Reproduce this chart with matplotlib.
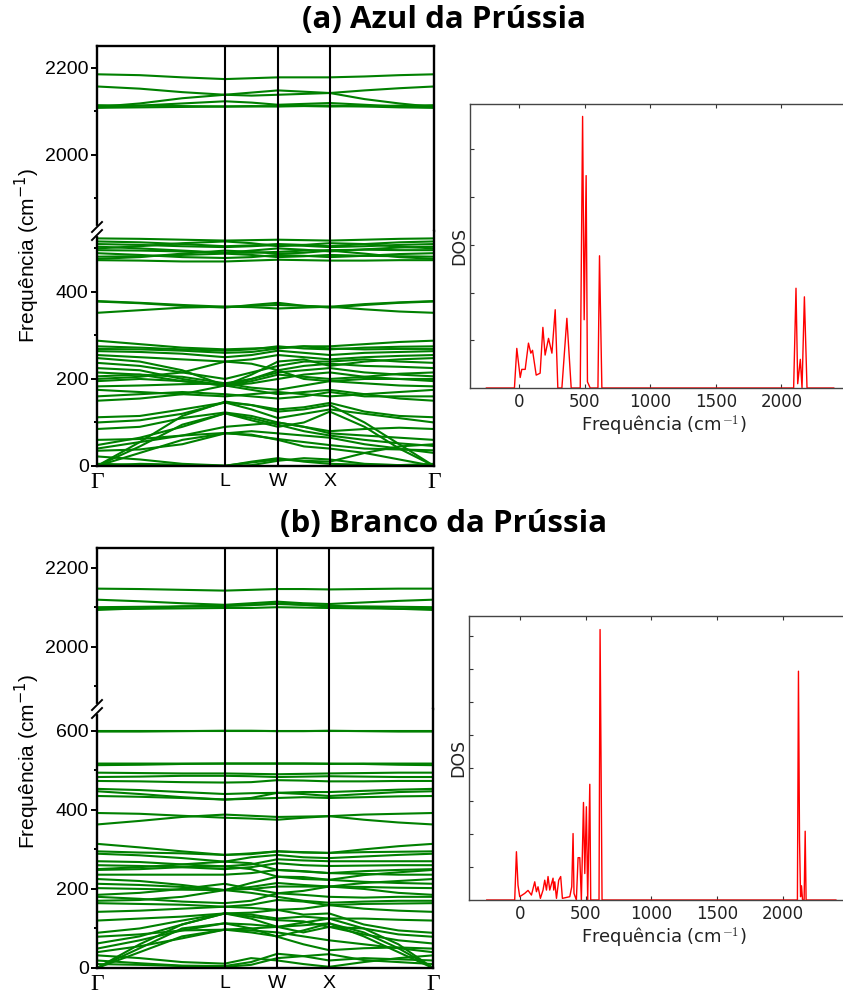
import matplotlib
matplotlib.use('Agg')
import matplotlib.pyplot as plt
from matplotlib.lines import Line2D
from matplotlib.ticker import MultipleLocator
from matplotlib.transforms import offset_copy

plt.rcParams['font.family'] = ['Liberation Sans', 'DejaVu Sans']

W_PX, H_PX = 843, 993

# k-path sample points: Γ, 1/3, 2/3, L, mid, W, mid, X, 1/3, 2/3, Γ
kpath = [0.0, 0.127, 0.253, 0.380, 0.4585, 0.537, 0.614, 0.691, 0.794, 0.897, 1.0]
k_ticks = [0.0, 0.380, 0.537, 0.691, 1.0]
k_labels = ['Γ', 'L', 'W', 'X', 'Γ']

# (a) Azul da Prússia - phonon branches (cm^-1)
bands_a = [
    [0, 30, 60, 75, 72, 60, 45, 40, 30, 15, 0],
    [0, 45, 95, 121, 105, 90, 100, 125, 90, 40, 0],
    [0, 55, 115, 148, 140, 125, 130, 140, 100, 50, 0],
    [22, 15, 5, 1, 8, 15, 12, 10, 30, 45, 50],
    [40, 55, 70, 76, 70, 62, 55, 48, 40, 38, 36],
    [48, 65, 90, 121, 110, 95, 80, 70, 60, 52, 46],
    [85, 90, 110, 123, 115, 100, 90, 80, 85, 88, 85],
    [112, 115, 130, 146, 140, 130, 135, 145, 125, 115, 112],
    [35, 38, 50, 75, 80, 75, 70, 65, 50, 40, 30],
    [0, 5, 3, 0, 2, 12, 18, 15, 5, 2, 0],
    [5, 3, 1, 0, 10, 18, 10, 5, 3, 2, 5],
    [60, 62, 70, 90, 95, 100, 90, 75, 70, 65, 60],
    [100, 105, 120, 146, 130, 110, 120, 130, 120, 110, 100],
    [150, 155, 165, 185, 175, 165, 170, 175, 165, 155, 150],
    [175, 170, 165, 160, 165, 170, 165, 160, 165, 170, 175],
    [183, 185, 188, 190, 180, 175, 185, 195, 190, 185, 183],
    [195, 200, 195, 185, 190, 200, 210, 215, 205, 200, 195],
    [206, 210, 205, 190, 200, 215, 220, 225, 215, 210, 206],
    [215, 210, 195, 185, 195, 210, 205, 200, 205, 212, 215],
    [225, 220, 200, 185, 200, 220, 230, 235, 230, 228, 225],
    [237, 230, 215, 200, 215, 230, 240, 240, 245, 240, 237],
    [248, 240, 220, 185, 210, 240, 245, 230, 240, 245, 248],
    [255, 250, 245, 240, 245, 255, 250, 245, 250, 253, 255],
    [264, 262, 258, 250, 255, 265, 260, 255, 260, 262, 264],
    [269, 268, 265, 260, 262, 270, 275, 270, 268, 269, 269],
    [275, 272, 268, 265, 268, 275, 270, 268, 272, 274, 275],
    [288, 280, 272, 268, 270, 272, 275, 275, 280, 285, 288],
    [160, 165, 170, 165, 160, 155, 160, 170, 160, 160, 160],
    [200, 205, 215, 240, 235, 220, 200, 195, 200, 200, 200],
    [352, 358, 364, 366, 368, 370, 368, 366, 360, 355, 352],
    [379, 375, 370, 366, 365, 362, 364, 366, 372, 376, 379],
    [378, 374, 368, 364, 370, 375, 368, 364, 370, 375, 378],
    [523, 522, 520, 518, 519, 520, 519, 518, 520, 522, 523],
    [516, 514, 510, 505, 507, 510, 508, 505, 510, 514, 516],
    [510, 508, 505, 503, 505, 508, 506, 503, 505, 508, 510],
    [504, 500, 495, 490, 495, 500, 497, 493, 498, 502, 504],
    [496, 495, 493, 490, 490, 492, 495, 496, 497, 496, 496],
    [489, 485, 480, 478, 480, 485, 483, 480, 483, 487, 489],
    [481, 482, 485, 488, 485, 480, 482, 485, 483, 482, 481],
    [473, 472, 470, 470, 472, 474, 473, 472, 472, 473, 473],
    [476, 480, 488, 495, 492, 488, 490, 495, 488, 480, 476],
    [500, 505, 512, 516, 512, 505, 508, 512, 510, 504, 500],
    [2185, 2183, 2178, 2174, 2176, 2178, 2178, 2178, 2180, 2183, 2185],
    [2157, 2152, 2144, 2138, 2143, 2148, 2145, 2142, 2148, 2153, 2157],
    [2110, 2118, 2130, 2138, 2136, 2138, 2140, 2142, 2128, 2118, 2110],
    [2109, 2113, 2118, 2123, 2120, 2115, 2117, 2119, 2115, 2111, 2109],
    [2114, 2113, 2112, 2111, 2112, 2111, 2112, 2111, 2112, 2113, 2114],
    [2108, 2109, 2110, 2111, 2111, 2112, 2113, 2113, 2111, 2109, 2108],
]

# (b) Branco da Prússia - phonon branches (cm^-1)
bands_b = [
    [0, 40, 80, 97, 90, 80, 95, 113, 80, 40, 0],
    [0, 50, 100, 113, 110, 104, 108, 113, 90, 50, 0],
    [0, 60, 110, 138, 130, 121, 118, 104, 100, 60, 0],
    [19, 12, 6, 5, 15, 36, 30, 19, 25, 22, 19],
    [32, 25, 15, 11, 25, 19, 10, 3, 15, 25, 32],
    [10, 8, 5, 3, 8, 25, 30, 35, 20, 15, 10],
    [40, 55, 75, 97, 95, 90, 80, 70, 60, 50, 40],
    [49, 70, 95, 113, 100, 79, 60, 45, 50, 52, 49],
    [62, 80, 110, 138, 125, 104, 90, 104, 85, 70, 62],
    [79, 85, 95, 97, 100, 104, 115, 125, 100, 85, 79],
    [89, 100, 120, 138, 140, 147, 135, 138, 110, 95, 89],
    [120, 125, 130, 138, 135, 125, 130, 125, 125, 122, 120],
    [142, 145, 150, 155, 152, 147, 150, 159, 150, 145, 142],
    [164, 162, 160, 155, 160, 172, 168, 159, 162, 163, 164],
    [170, 172, 180, 197, 190, 180, 170, 165, 168, 170, 170],
    [180, 175, 168, 164, 170, 189, 185, 180, 178, 180, 180],
    [202, 200, 198, 197, 200, 206, 206, 206, 205, 203, 202],
    [213, 210, 205, 197, 215, 231, 225, 223, 218, 215, 213],
    [236, 236, 236, 236, 240, 248, 244, 240, 238, 236, 236],
    [248, 250, 255, 257, 250, 231, 230, 223, 235, 242, 248],
    [250, 255, 262, 269, 265, 248, 245, 240, 245, 248, 250],
    [260, 258, 255, 250, 255, 265, 260, 258, 259, 260, 260],
    [270, 268, 262, 257, 262, 275, 272, 270, 270, 270, 270],
    [289, 285, 278, 269, 280, 286, 280, 278, 282, 286, 289],
    [295, 292, 290, 286, 290, 295, 293, 291, 293, 294, 295],
    [314, 305, 295, 286, 288, 295, 292, 291, 300, 308, 314],
    [185, 190, 200, 213, 200, 189, 195, 206, 200, 190, 185],
    [225, 220, 210, 197, 205, 215, 210, 206, 215, 220, 225],
    [363, 372, 382, 388, 385, 382, 383, 384, 375, 368, 363],
    [392, 390, 385, 380, 378, 375, 380, 384, 388, 390, 392],
    [435, 433, 430, 426, 428, 430, 432, 430, 432, 434, 435],
    [447, 440, 432, 426, 430, 443, 440, 435, 440, 445, 447],
    [453, 450, 445, 440, 442, 443, 445, 445, 448, 451, 453],
    [473, 472, 470, 469, 470, 475, 474, 472, 472, 473, 473],
    [483, 484, 486, 486, 485, 483, 484, 485, 484, 483, 483],
    [494, 493, 492, 492, 491, 490, 491, 492, 493, 494, 494],
    [513, 514, 516, 517, 517, 517, 517, 517, 516, 514, 513],
    [517, 517, 517, 517, 517, 517, 517, 516, 517, 517, 517],
    [600, 600, 600, 600, 600, 600, 600, 600, 600, 600, 600],
    [598, 598, 599, 600, 600, 599, 599, 600, 599, 598, 598],
    [2147, 2146, 2144, 2142, 2144, 2146, 2146, 2145, 2146, 2147, 2147],
    [2119, 2115, 2110, 2106, 2110, 2114, 2110, 2108, 2112, 2116, 2119],
    [2093, 2097, 2102, 2104, 2106, 2108, 2106, 2104, 2100, 2096, 2093],
    [2100, 2101, 2102, 2103, 2105, 2110, 2106, 2102, 2102, 2101, 2100],
    [2096, 2096, 2097, 2098, 2098, 2100, 2099, 2098, 2097, 2096, 2096],
]

# phonon density of states
dos_a_freq = [-250, -36, -18, 8, 20, 46, 71, 89, 102, 130, 160, 181, 198, 224, 250,
              275, 295, 326, 364, 397, 466, 484, 496, 511, 521, 542, 601, 613, 631,
              2094, 2112, 2125, 2145, 2158, 2176, 2196, 2400]
dos_a_val = [0, 0, 0.83, 0.22, 0.39, 0.39, 0.94, 0.73, 0.79, 0.27, 0.31, 1.27, 0.69, 1.04, 0.73,
             1.64, 0, 0, 1.46, 0, 0, 5.69, 1.43, 4.45, 0.13, 0, 0, 2.77, 0,
             0, 2.09, 0.09, 0.60, 0, 1.91, 0, 0]

dos_b_freq = [-250, -38, -25, -13, 0, 38, 63, 89, 114, 127, 139, 157, 177, 190, 203,
              215, 228, 253, 258, 266, 279, 296, 311, 324, 380, 395, 405, 412, 430,
              443, 456, 468, 484, 494, 506, 516, 532, 539, 602, 610, 617, 625,
              2108, 2116, 2124, 2132, 2139, 2147, 2159, 2167, 2174, 2400]
dos_b_val = [0, 0, 1.46, 0.45, 0.10, 0.20, 0.29, 0.15, 0.55, 0.25, 0.40, 0.05, 0.30, 0.60, 0.30,
             0.71, 0.30, 0.66, 0.30, 0.55, 0.05, 0.60, 0.71, 0.05, 0.10, 0.40, 2.01, 0.20, 0,
             1.28, 1.28, 0, 2.95, 0.80, 2.82, 0, 3.50, 0, 0, 8.18, 4.43, 0,
             0, 6.92, 1.84, 0.10, 0.43, 0, 0, 2.08, 0, 0]

fig = plt.figure(figsize=(W_PX / 100, H_PX / 100), dpi=100)


def rect(left, top, right, bottom):
    # pixel box -> figure fraction [l, b, w, h]
    return [left / W_PX, 1 - bottom / H_PX, (right - left) / W_PX, (bottom - top) / H_PX]


def fig_xy(px, py):
    return px / W_PX, 1 - py / H_PX


def band_panel(bands, box, y_break, lower_lim, upper_lim, label_y):
    left, top, right, bottom = box
    ax_hi = fig.add_axes(rect(left, top, right, y_break))
    ax_lo = fig.add_axes(rect(left, y_break, right, bottom))
    for ax in (ax_hi, ax_lo):
        for band in bands:
            ax.plot(kpath, band, color='#008000', lw=1.5)
        for kx in k_ticks[1:-1]:
            ax.axvline(kx, color='black', lw=1.5, zorder=3)
        ax.set_xlim(0, 1)
        for s in ax.spines.values():
            s.set_linewidth(1.7)
        ax.yaxis.set_major_locator(MultipleLocator(200))
        ax.yaxis.set_minor_locator(MultipleLocator(100))
        ax.tick_params(axis='y', which='major', direction='out', length=4, width=1.4,
                       labelsize=14, pad=2)
        ax.tick_params(axis='y', which='minor', direction='out', length=2, width=1.4)
        ax.set_xticks([])
    ax_hi.set_ylim(*upper_lim)
    ax_lo.set_ylim(*lower_lim)
    ax_hi.spines['bottom'].set_visible(False)
    ax_lo.spines['top'].set_visible(False)

    # high-symmetry point labels under the lower axis
    trans = offset_copy(ax_lo.get_xaxis_transform(), fig=fig, y=-16, units='dots')
    for kx, lab in zip(k_ticks, k_labels):
        if lab == 'Γ':
            ax_lo.text(kx, 0, lab, transform=trans, ha='center', va='center',
                       fontsize=17, family='Liberation Serif')
        else:
            ax_lo.text(kx, 0, lab, transform=trans, ha='center', va='center', fontsize=14)

    # broken-axis marks on the left spine
    gx, gy0 = fig_xy(left, y_break - 3)
    _, gy1 = fig_xy(left, y_break + 3)
    fig.add_artist(Line2D([gx, gx], [gy0, gy1], color='white', lw=3, zorder=5))
    for dy in (-4, 4):
        x0, y0 = fig_xy(left - 5, y_break + dy + 5)
        x1, y1 = fig_xy(left + 5, y_break + dy - 5)
        fig.add_artist(Line2D([x0, x1], [y0, y1], color='black', lw=1.4, zorder=6))

    lx, ly = fig_xy(27, label_y)
    fig.text(lx, ly, 'Frequência (cm$^{-1}$)', rotation=90, ha='center', va='center',
             fontsize=15)


def dos_panel(freq, val, box, xlim, ylim, ymax_tick):
    ax = fig.add_axes(rect(*box))
    ax.plot(freq, val, color='red', lw=1.0)
    ax.set_xlim(*xlim)
    ax.set_ylim(*ylim)
    ax.set_xticks([0, 500, 1000, 1500, 2000])
    ax.set_yticks(range(1, ymax_tick + 1))
    ax.set_yticklabels([])
    ax.tick_params(axis='both', direction='in', top=True, length=3, width=0.8,
                   labelsize=12, colors='#333333', labelcolor='#222222')
    for lab in ax.get_xticklabels():
        lab.set_fontfamily('DejaVu Sans')
    for s in ax.spines.values():
        s.set_linewidth(1.0)
        s.set_color('#444444')
    # the frame runs past the right edge of the figure
    ax.spines['right'].set_visible(False)
    ax.set_xlabel('Frequência (cm$^{-1}$)', fontsize=13, family='DejaVu Sans',
                  labelpad=2, color='#222222', math_fontfamily='cm')
    ax.set_ylabel('DOS', fontsize=12.5, family='DejaVu Sans', color='#222222')
    ax.yaxis.set_label_coords(-0.005, 0.5)
    return ax


band_panel(bands_a, (97, 46, 434, 466), 231, (0, 540), (1825, 2250), 256)
band_panel(bands_b, (97, 548, 433, 968), 709, (0, 655), (1842, 2250), 762)

dos_panel(dos_a_freq, dos_a_val, (470, 104, 858, 388), (-375, 2585), (0, 5.95), 5)
dos_panel(dos_b_freq, dos_b_val, (469, 616, 858, 900), (-385, 2568), (0, 8.59), 8)

tx, ty = fig_xy(444, 20)
fig.text(tx, ty, '(a) Azul da Prússia', ha='center', va='center', fontsize=22.5,
         fontweight='bold', family='Open Sans')
tx, ty = fig_xy(444, 524)
fig.text(tx, ty, '(b) Branco da Prússia', ha='center', va='center', fontsize=22.5,
         fontweight='bold', family='Open Sans')

fig.savefig('out.png', dpi=100)
